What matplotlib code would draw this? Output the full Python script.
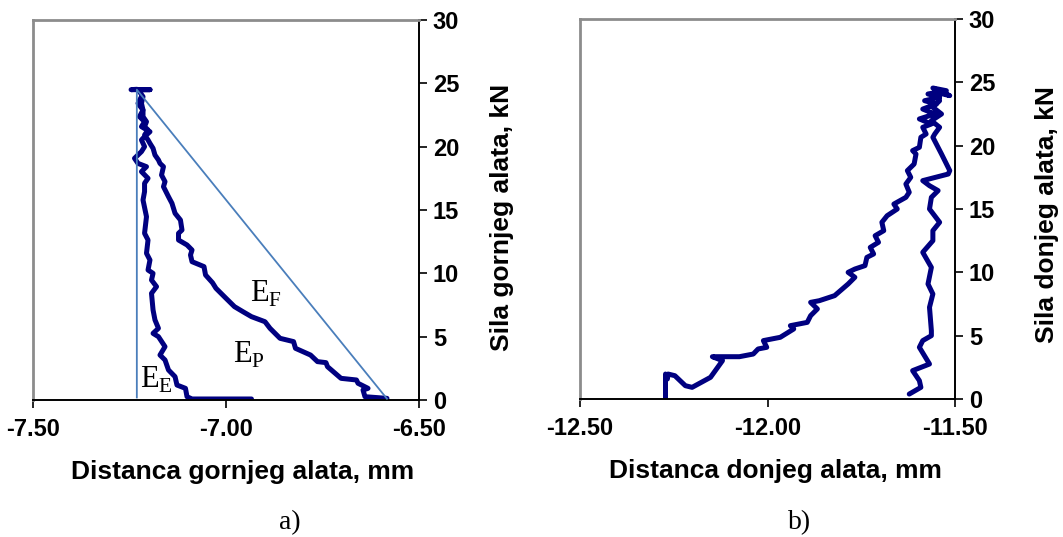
import matplotlib.pyplot as plt

# a) upper tool: loading branch (from x=-6.58 up to the peak)
upper_load_x = [-6.583, -6.640, -6.645, -6.632, -6.658, -6.662, -6.702, -6.737, -6.741, -6.763,
                -6.781, -6.820, -6.825, -6.860, -6.886, -6.899, -6.934, -6.956, -6.978, -7.000,
                -7.026, -7.035, -7.053, -7.057, -7.088, -7.092, -7.088, -7.101, -7.123, -7.123,
                -7.114, -7.118, -7.132, -7.140, -7.149, -7.162, -7.158, -7.167, -7.162, -7.171,
                -7.175, -7.184, -7.189, -7.197, -7.202, -7.211, -7.202, -7.211, -7.206, -7.215,
                -7.215, -7.219, -7.215, -7.224, -7.231, -7.246, -7.197, -7.231]
upper_load_y = [0.13, 0.26, 0.79, 0.92, 1.32, 1.58, 1.71, 2.63, 2.95, 3.03,
                3.55, 4.08, 4.61, 4.87, 5.66, 6.18, 6.58, 6.97, 7.37, 8.03,
                8.82, 9.26, 9.87, 10.53, 10.92, 11.45, 11.84, 12.24, 12.63, 13.16,
                13.42, 14.21, 14.74, 15.53, 16.05, 16.84, 17.24, 17.76, 18.42, 18.68,
                18.95, 19.34, 19.87, 20.26, 20.53, 20.92, 21.32, 21.58, 21.97, 22.37,
                22.89, 23.42, 23.95, 24.34, 24.53, 24.50, 24.50, 24.50]
# a) upper tool: unloading branch (from the peak down to zero force)
upper_unload_x = [-7.219, -7.228, -7.215, -7.224, -7.211, -7.219, -7.197, -7.211, -7.219, -7.211,
                  -7.219, -7.237, -7.228, -7.206, -7.219, -7.202, -7.211, -7.211, -7.215, -7.206,
                  -7.211, -7.202, -7.206, -7.197, -7.202, -7.189, -7.193, -7.180, -7.193, -7.189,
                  -7.184, -7.175, -7.189, -7.175, -7.158, -7.171, -7.158, -7.149, -7.132, -7.127,
                  -7.105, -7.101, -7.088, -6.934]
upper_unload_y = [23.95, 23.42, 22.89, 22.37, 21.97, 21.58, 21.18, 20.79, 20.53, 20.00,
                  19.61, 19.08, 18.68, 18.42, 18.03, 17.50, 17.11, 16.45, 15.79, 14.47,
                  13.16, 12.63, 11.58, 11.05, 10.26, 10.00, 9.47, 8.95, 8.42, 7.11,
                  6.32, 5.66, 5.26, 5.00, 4.21, 3.55, 3.16, 2.37, 1.84, 1.18,
                  0.92, 0.26, 0.08, 0.08]
# energy triangle (E_E / E_P / E_F)
tri_x = [-7.231, -7.231, -6.583]
tri_y = [0.2, 24.5, 0.1]

# b) lower tool
lower_x = [-12.272, -12.272, -12.267, -12.265, -12.247, -12.219, -12.201, -12.152, -12.120, -12.147,
           -12.075, -12.038, -12.025, -12.002, -12.011, -11.966, -11.930, -11.939, -11.894, -11.885,
           -11.867, -11.885, -11.862, -11.821, -11.785, -11.767, -11.785, -11.767, -11.740, -11.735,
           -11.717, -11.726, -11.704, -11.713, -11.690, -11.695, -11.681, -11.654, -11.663, -11.631,
           -11.622, -11.631, -11.618, -11.627, -11.609, -11.604, -11.613, -11.595, -11.591, -11.577,
           -11.586, -11.563, -11.595, -11.554, -11.586, -11.550, -11.581, -11.541, -11.572, -11.523,
           -11.559, -11.514, -11.550, -11.541, -11.559, -11.536, -11.563, -11.541, -11.554,
           -11.559, -11.536, -11.514, -11.518, -11.586, -11.568, -11.545, -11.563, -11.568, -11.541,
           -11.559, -11.559, -11.586, -11.563, -11.572, -11.559, -11.568, -11.563, -11.563, -11.586,
           -11.595, -11.568, -11.613, -11.595, -11.591, -11.622]
lower_y = [0.00, 1.97, 1.58, 1.97, 1.84, 1.05, 0.92, 1.71, 3.03, 3.34,
           3.34, 3.55, 3.95, 4.08, 4.61, 4.87, 5.53, 5.79, 6.05, 6.58,
           7.11, 7.63, 7.76, 8.16, 9.08, 9.61, 10.00, 10.26, 10.53, 11.18,
           11.45, 11.97, 12.37, 12.89, 13.29, 13.95, 14.47, 15.00, 15.39, 15.92,
           16.32, 16.97, 17.50, 18.03, 18.55, 19.34, 19.61, 19.87, 20.66, 20.92,
           21.45, 21.71, 22.11, 22.50, 22.89, 23.29, 23.55, 23.82, 24.08, 24.34,
           24.55, 23.95, 24.21, 23.55, 23.03, 22.50, 21.97, 21.45, 20.92,
           20.66, 19.34, 18.03, 17.76, 17.24, 16.84, 16.45, 15.92, 15.00, 13.95,
           13.29, 12.50, 11.58, 10.39, 9.08, 8.29, 7.24, 5.39, 5.00, 4.61,
           4.08, 2.76, 2.24, 1.45, 0.92, 0.39]

y_ticks = [0, 5, 10, 15, 20, 25, 30]

NAVY = '#000080'
THIN = '#4a7ebb'
plt.rcParams['font.family'] = ['Liberation Sans', 'DejaVu Sans']


def style_axes(ax, xlim, xticks, xlabels, xlabel, ylabel, ylab_x, ylab_y, xlab_x):
    ax.set_xlim(*xlim)
    ax.set_ylim(0, 30)
    ax.set_xticks(xticks)
    ax.set_xticklabels(xlabels)
    ax.set_yticks(y_ticks)
    ax.yaxis.tick_right()
    ax.tick_params(axis='both', direction='out', length=6, width=1.2, colors='black',
                   labelsize=17)
    for lab in ax.get_xticklabels() + ax.get_yticklabels():
        lab.set_fontweight('bold')
    ax.tick_params(axis='x', pad=7)
    ax.tick_params(axis='y', pad=4)
    for s in ['left', 'top']:
        ax.spines[s].set_color('#8c8c8c')
        ax.spines[s].set_linewidth(2)
    for s in ['right', 'bottom']:
        ax.spines[s].set_color('black')
        ax.spines[s].set_linewidth(1.4)
    ax.set_xlabel(xlabel, fontsize=19, fontweight='bold')
    ax.xaxis.set_label_coords(xlab_x, -0.158)
    ax.yaxis.set_label_position('right')
    ax.set_ylabel(ylabel, fontsize=19, fontweight='bold')
    ax.yaxis.set_label_coords(ylab_x, ylab_y)


fig = plt.figure(figsize=(10.63, 5.37), dpi=100)
ax1 = fig.add_axes([33 / 1063, 1 - 400 / 537, 386 / 1063, 380 / 537])
ax2 = fig.add_axes([580 / 1063, 1 - 399 / 537, 375 / 1063, 380 / 537])

ax1.plot(tri_x, tri_y, color=THIN, lw=1.3, zorder=3)
ax1.plot(upper_load_x, upper_load_y, color=NAVY, lw=3.6, solid_capstyle='round',
         solid_joinstyle='round', zorder=2)
ax1.plot(upper_unload_x, upper_unload_y, color=NAVY, lw=3.6, solid_capstyle='round',
         solid_joinstyle='round', zorder=2)
serif = ['Liberation Serif', 'DejaVu Serif']
ax1.text(-6.939, 7.76, r'E$_\mathregular{F}$', fontsize=22, family=serif, va='baseline')
ax1.text(-6.982, 2.89, r'E$_\mathregular{P}$', fontsize=22, family=serif, va='baseline')
ax1.text(-7.224, 0.92, r'E$_\mathregular{E}$', fontsize=22, family=serif, va='baseline')
style_axes(ax1, (-7.5, -6.5), [-7.5, -7.0, -6.5], ['-7.50', '-7.00', '-6.50'],
           'Distanca gornjeg alata, mm', 'Sila gornjeg alata, kN', 1.184, 0.48, 0.544)

ax2.plot(lower_x, lower_y, color=NAVY, lw=3.6, solid_capstyle='round',
         solid_joinstyle='round')
style_axes(ax2, (-12.5, -11.5), [-12.5, -12.0, -11.5], ['-12.50', '-12.00', '-11.50'],
           'Distanca donjeg alata, mm', 'Sila donjeg alata, kN', 1.213, 0.485, 0.52)

fig.text(290 / 1063, 1 - 523 / 537, 'a)', fontsize=20, family=serif, ha='center', va='center')
fig.text(800 / 1063, 1 - 523 / 537, 'b)', fontsize=20, family=serif, ha='center', va='center')

fig.savefig('out.png', dpi=100)
